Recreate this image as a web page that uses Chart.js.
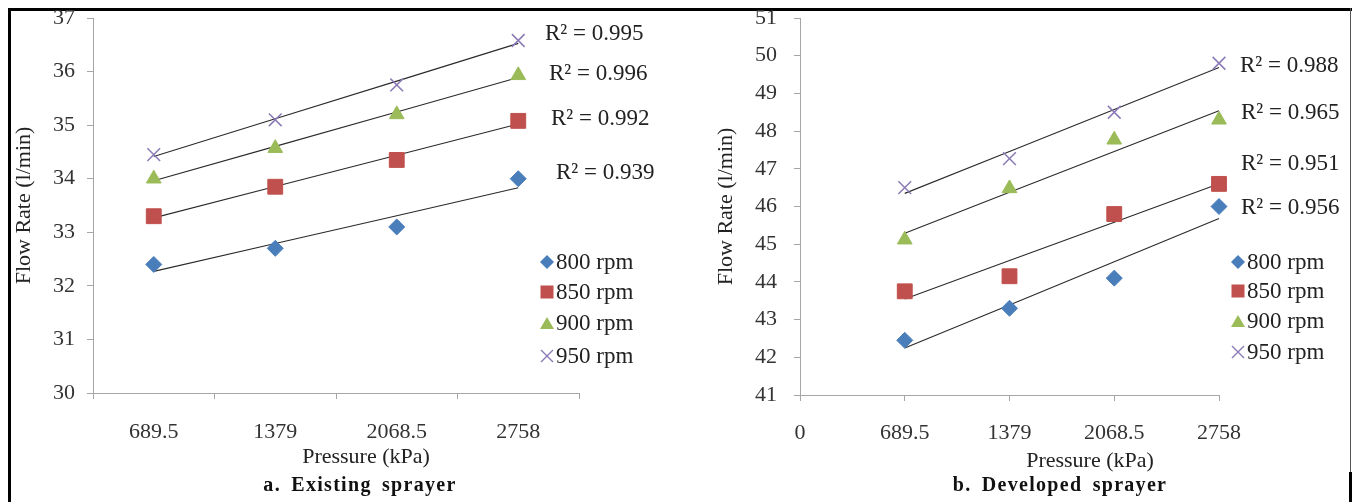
<!DOCTYPE html>
<html>
<head>
<meta charset="utf-8">
<script src="https://cdn.jsdelivr.net/npm/chart.js@4.4.1/dist/chart.umd.min.js"></script>
<style>
  body {
    margin: 0;
    width: 1361px;
    height: 502px;
    overflow: hidden;
    position: relative;
    background: #fff;
    font-family: "Liberation Serif", "Times New Roman", serif;
    color: #222;
  }
  .frame { position: absolute; background: #000; }
  .chart-box { position: absolute; top: 0; }
  .txt {
    position: absolute;
    white-space: nowrap;
    font-size: 22px;
    line-height: 22px;
  }
  .big { font-size: 23px; }
  .center { transform: translateX(-50%); }
  .caption { font-weight: bold; font-size: 20px; letter-spacing: 1.3px; word-spacing: 4px; color: #111; }
  .legend-row { position: absolute; display: flex; align-items: center; white-space: nowrap; font-size: 23px; line-height: 22px; }
  .legend-row svg { margin-right: 1px; }
</style>
</head>
<body>
  <div class="frame" style="left:8px;top:8px;width:1344px;height:3px"></div>
  <div class="frame" style="left:8px;top:8px;width:3px;height:494px"></div>
  <div class="frame" style="left:1350px;top:8px;width:1px;height:464px;background:#555"></div>
  <div class="frame" style="left:1349px;top:472px;width:3px;height:30px"></div>

  <div class="chart-box" style="left:10px"><canvas id="existing-chart" width="640" height="470"></canvas></div>
  <div class="chart-box" style="left:690px"><canvas id="developed-chart" width="660" height="470"></canvas></div>

  <div class="txt center" style="left:366px;top:445px">Pressure (kPa)</div>
  <div class="txt center" style="left:1090px;top:449px">Pressure (kPa)</div>
  <div class="txt center caption" style="left:360px;top:473px">a. Existing sprayer</div>
  <div class="txt center caption" style="left:1060px;top:473px">b. Developed sprayer</div>

  <div id="existing-r2"></div>
  <div id="developed-r2"></div>
  <div id="existing-legend"></div>
  <div id="developed-legend"></div>

<script>
const pressureLabels = ["689.5", "1379", "2068.5", "2758"];
const pressures = [689.5, 1379, 2068.5, 2758];
const speeds = ["800 rpm", "850 rpm", "900 rpm", "950 rpm"];

// a. existing sprayer, flow rate (l/min)
const existing800 = [32.4, 32.7, 33.1, 34.0];
const existing850 = [33.3, 33.85, 34.35, 35.08];
const existing900 = [34.0, 34.57, 35.2, 35.93];
const existing950 = [34.45, 35.1, 35.75, 36.58];

// b. developed sprayer, flow rate (l/min)
const developed800 = [42.45, 43.3, 44.1, 46.0];
const developed850 = [43.75, 44.15, 45.8, 46.6];
const developed900 = [45.12, 46.48, 47.77, 48.3];
const developed950 = [46.5, 47.27, 48.5, 49.8];

// R² labels, listed 800 -> 950 rpm
const existingR2 = ["0.939", "0.992", "0.996", "0.995"];
const developedR2 = ["0.956", "0.951", "0.965", "0.988"];

const existingTicks = { min: 30, max: 37, step: 1 };
const developedTicks = { min: 41, max: 51, step: 1 };

const markerColors = ["#4A7EBB", "#C0504D", "#9BBB59", "#8A7AB5"];
const markerStyles = ["rectRot", "rect", "triangle", "crossRot"];
const markerRadius = [8, 10.5, 8.5, 9];
const axisGray = "#a6a6a6";
const tickColor = "#333";

Chart.defaults.font.family = "'Liberation Serif', 'Times New Roman', serif";
Chart.defaults.font.size = 22;
Chart.defaults.color = tickColor;

const linearFit = (xs, ys) => {
  const n = xs.length;
  const mx = xs.reduce((a, b) => a + b, 0) / n;
  const my = ys.reduce((a, b) => a + b, 0) / n;
  let sxy = 0;
  let sxx = 0;
  xs.forEach((x, i) => {
    sxy += (x - mx) * (ys[i] - my);
    sxx += (x - mx) * (x - mx);
  });
  const slope = sxy / sxx;
  return xs.map((x) => my + slope * (x - mx));
};

const fixWidth = (w) => (scale) => {
  scale.width = w;
  scale.paddingTop = 0;
  scale.paddingBottom = 0;
};
const fixHeight = (h) => (scale) => {
  scale.height = h;
  scale.paddingLeft = 0;
  scale.paddingRight = 0;
};

const buildDatasets = (series, toPoint) => {
  const trends = series.map((values) => ({
    data: linearFit(pressures, values).map(toPoint),
    showLine: true,
    borderColor: "#2a2a2a",
    borderWidth: 1.1,
    pointRadius: 0,
    fill: false,
    clip: false,
    order: 2,
  }));
  const markers = series.map((values, i) => ({
    label: speeds[i],
    data: values.map(toPoint),
    showLine: false,
    pointStyle: markerStyles[i],
    pointRadius: markerRadius[i],
    backgroundColor: markerColors[i],
    borderColor: markerColors[i],
    borderWidth: i === 3 ? 1.5 : 1,
    clip: false,
    order: 1,
  }));
  return trends.concat(markers);
};

const yAxis = (ticks, width, labelPad, titlePad) => ({
  min: ticks.min,
  max: ticks.max,
  ticks: { stepSize: ticks.step, padding: labelPad, color: tickColor },
  grid: { drawOnChartArea: false, tickLength: 6, color: axisGray },
  border: { color: axisGray },
  title: {
    display: true,
    text: "Flow Rate (l/min)",
    color: "#222",
    padding: { top: titlePad, bottom: 0 },
  },
  afterFit: fixWidth(width),
});

const baseOptions = {
  responsive: false,
  animation: false,
  events: [],
  plugins: { legend: { display: false }, tooltip: { enabled: false } },
};

const existingChart = new Chart(document.getElementById("existing-chart"), {
  type: "line",
  data: {
    labels: pressureLabels,
    datasets: buildDatasets(
      [existing800, existing850, existing900, existing950],
      (v) => v,
    ),
  },
  options: {
    ...baseOptions,
    layout: { padding: { top: 18, right: 71, left: 0, bottom: 0 } },
    scales: {
      x: {
        type: "category",
        offset: true,
        grid: { offset: true, drawOnChartArea: false, tickLength: 6, color: axisGray },
        border: { color: axisGray },
        ticks: { padding: 20, color: tickColor, autoSkip: false, maxRotation: 0 },
        afterFit: fixHeight(77),
      },
      y: yAxis(existingTicks, 83, 12, 1),
    },
  },
});

const developedChart = new Chart(document.getElementById("developed-chart"), {
  type: "scatter",
  data: {
    datasets: buildDatasets(
      [developed800, developed850, developed900, developed950],
      (v, i) => ({ x: pressures[i], y: v }),
    ),
  },
  options: {
    ...baseOptions,
    layout: { padding: { top: 18, right: 131, left: 0, bottom: 0 } },
    scales: {
      x: {
        type: "linear",
        min: 0,
        max: 2758,
        grid: { drawOnChartArea: false, tickLength: 6, color: axisGray },
        border: { color: axisGray },
        ticks: {
          stepSize: 689.5,
          padding: 19,
          color: tickColor,
          autoSkip: false,
          maxRotation: 0,
          callback: (value) => String(value),
        },
        afterFit: fixHeight(75),
      },
      y: yAxis(developedTicks, 110, 17, 23),
    },
  },
});

// R² labels and legends, drawn as html text beside each plot
const markerSvg = (i) => {
  const c = markerColors[i];
  const shapes = [
    `<polygon points="8,1 15,8 8,15 1,8" fill="${c}"/>`,
    `<rect x="1.5" y="1.5" width="13" height="13" fill="${c}"/>`,
    `<polygon points="8,2 15,14 1,14" fill="${c}"/>`,
    `<path d="M2,2 L14,14 M14,2 L2,14" stroke="${c}" stroke-width="1.4"/>`,
  ];
  return `<svg width="16" height="16" viewBox="0 0 16 16">${shapes[i]}</svg>`;
};

const placeR2 = (id, labels, spots) => {
  const box = document.getElementById(id);
  labels.forEach((r2, i) => {
    const el = document.createElement("div");
    el.className = "txt big";
    el.textContent = `R² = ${r2}`;
    el.style.left = spots[i][0] + "px";
    el.style.top = spots[i][1] - 11 + "px";
    box.appendChild(el);
  });
};

const placeLegend = (id, left, rows) => {
  const box = document.getElementById(id);
  speeds.forEach((name, i) => {
    const row = document.createElement("div");
    row.className = "legend-row";
    row.style.left = left + "px";
    row.style.top = rows[i] - 11 + "px";
    row.innerHTML = markerSvg(i) + `<span>${name}</span>`;
    box.appendChild(row);
  });
};

placeR2("existing-r2", existingR2, [[556, 172], [551, 118], [549, 73], [545, 33]]);
placeR2("developed-r2", developedR2, [[1241, 207], [1241, 163], [1241, 112], [1240, 65]]);
placeLegend("existing-legend", 539, [262, 292, 323, 356]);
placeLegend("developed-legend", 1230, [262, 291, 321, 352]);
</script>
</body>
</html>
